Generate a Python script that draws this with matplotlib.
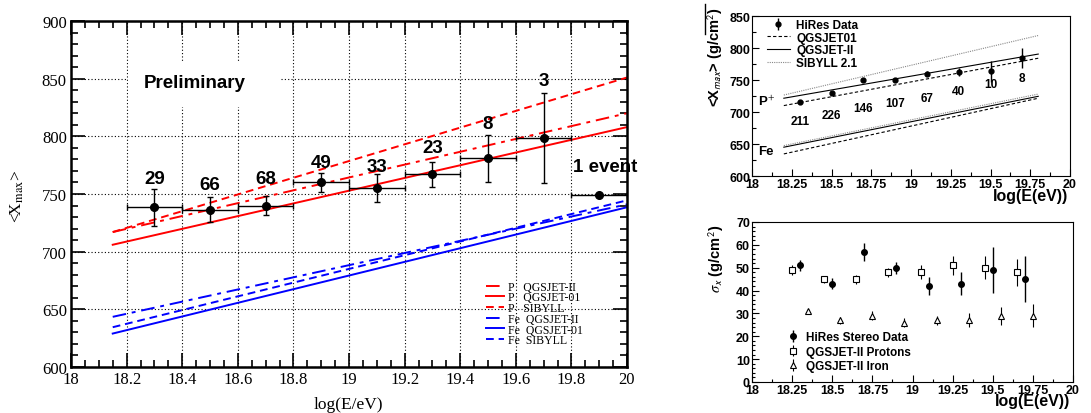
import matplotlib
matplotlib.use('Agg')
import matplotlib.pyplot as plt
from matplotlib.lines import Line2D
from matplotlib.patches import Rectangle
from matplotlib.ticker import MultipleLocator
import numpy as np

plt.rcParams['mathtext.fontset'] = 'stix'

SERIF = 'Liberation Serif'
SANS = 'Liberation Sans'

# ---- left panel: <Xmax> vs energy, preliminary data with model lines
xmax_e = [18.3, 18.5, 18.7, 18.9, 19.1, 19.3, 19.5, 19.7, 19.9]
xmax_val = [738.5, 736.5, 740, 760, 755, 767, 781, 798.5, 749]
xmax_err = [16, 11, 8, 8.5, 12, 11, 20.5, 39, 0]
xmax_bin = [0.1] * 9
xmax_counts = ['29', '66', '68', '49', '33', '23', '8', '3', '1 event']
count_e = [18.3, 18.5, 18.7, 18.9, 19.1, 19.3, 19.5, 19.7, 19.92]
count_y = [763, 758, 763, 777.5, 774, 790, 811, 848, 774]

model_e = [18.15, 20.0]
p_qgsjet2 = [717, 820]
p_qgsjet01 = [706, 808]
p_sibyll = [717, 851]
fe_qgsjet2 = [643.5, 741]
fe_qgsjet01 = [629, 738.5]
fe_sibyll = [634.5, 744.5]

# ---- top right: HiRes <Xmax>
hires_e = [18.3, 18.5, 18.7, 18.9, 19.1, 19.3, 19.5, 19.7]
hires_xmax = [716.5, 729.5, 750.5, 750.5, 760, 763.5, 765, 784.5]
hires_lo = [3, 3, 3, 3, 4, 6, 18, 15]
hires_hi = [3, 3, 3, 3, 4, 6, 15, 15.5]
hires_counts = ['211', '226', '146', '107', '67', '40', '10', '8']
hires_count_y = [687, 696, 706, 714.5, 723, 734, 744, 753.5]

hr_model_e = [18.2, 19.8]
hr_p_qgsjet01 = [710.5, 784.5]
hr_p_qgsjet2 = [722, 791]
hr_p_sibyll = [727, 820]
hr_fe_qgsjet01 = [635, 722]
hr_fe_qgsjet2 = [645.5, 725]
hr_fe_sibyll = [648, 728.5]

# ---- bottom right: width of Xmax distribution
sig_e = [18.3, 18.5, 18.7, 18.9, 19.1, 19.3, 19.5, 19.7]
sig_val = [51, 43, 57, 50, 42, 43, 49, 45]
sig_err = [2.5, 2.5, 4, 2.7, 4, 5, 10, 10]
prot_e = [18.25, 18.45, 18.65, 18.85, 19.05, 19.25, 19.45, 19.65]
prot_val = [49, 45, 45, 48, 48, 51, 50, 48]
prot_err = [2, 1.5, 2, 2, 3, 4, 5, 6]
iron_e = [18.35, 18.55, 18.75, 18.95, 19.15, 19.35, 19.55, 19.75]
iron_val = [31, 27, 29, 26, 27, 27, 29, 29]
iron_err = [1, 1.5, 2, 2, 2, 3, 4, 5]

e_ticks = ['18', '18.25', '18.5', '18.75', '19', '19.25', '19.5', '19.75', '20']

fig = plt.figure(figsize=(10.91, 4.14), dpi=100)

# ================= left panel =================
ax = fig.add_axes([0.0651, 0.1111, 0.5096, 0.8358])
ax.set_xlim(18, 20)
ax.set_ylim(600, 900)
ax.xaxis.set_minor_locator(MultipleLocator(0.05))
ax.yaxis.set_minor_locator(MultipleLocator(10))
ax.tick_params(which='both', direction='in', top=True, right=True, width=1.2)
ax.tick_params(which='major', length=10, pad=3)
ax.tick_params(which='minor', length=5)
ax.set_xticks(np.arange(18, 20.01, 0.2))
ax.set_xticklabels(['18', '18.2', '18.4', '18.6', '18.8', '19', '19.2', '19.4', '19.6', '19.8', '20'],
                   fontfamily=SERIF, fontsize=12)
ax.set_yticks(np.arange(600, 901, 50))
ax.set_yticklabels([str(v) for v in range(600, 901, 50)], fontfamily=SERIF, fontsize=12)
for s in ax.spines.values():
    s.set_linewidth(1.8)
ax.grid(True, which='major', color='black', linestyle=(0, (1, 2)), linewidth=0.8)
ax.set_axisbelow(True)

# white box behind the label
ax.add_patch(Rectangle((18.205, 825.4), 0.547, 39.1, facecolor='white', edgecolor='none', zorder=1.5))
ax.text(18.263, 847, 'Preliminary', fontfamily=SANS, fontweight='bold', fontsize=13.5,
        va='center', ha='left', zorder=3)

lw = 1.4
dashdot = (0, (7, 3, 2, 3))
dashed = (0, (4, 2.5))
ax.plot(model_e, p_qgsjet2, color='red', lw=lw, ls=dashdot, label='P   QGSJET-II', zorder=2)
ax.plot(model_e, p_qgsjet01, color='red', lw=lw, ls='-', label='P   QGSJET-01', zorder=2)
ax.plot(model_e, p_sibyll, color='red', lw=lw, ls=dashed, label='P   SIBYLL', zorder=2)
ax.plot(model_e, fe_qgsjet2, color='blue', lw=lw, ls=dashdot, label='Fe  QGSJET-II', zorder=2)
ax.plot(model_e, fe_qgsjet01, color='blue', lw=lw, ls='-', label='Fe  QGSJET-01', zorder=2)
ax.plot(model_e, fe_sibyll, color='blue', lw=lw, ls=dashed, label='Fe  SIBYLL', zorder=2)

ax.errorbar(xmax_e, xmax_val, yerr=xmax_err, xerr=xmax_bin, fmt='o', color='black',
            ms=5.5, elinewidth=1.0, capsize=2.5, capthick=1.0, zorder=4)

for e, y, t in zip(count_e, count_y, xmax_counts):
    ax.text(e, y, t, ha='center', va='center', fontfamily=SANS, fontweight='bold',
            fontsize=13.5, zorder=5, clip_on=False)

ax.legend(loc='lower left', bbox_to_anchor=(0.735, 0.043), frameon=False,
          prop={'family': SERIF, 'size': 8.5}, handlelength=1.6, handletextpad=0.3,
          labelspacing=-0.11, borderpad=0)

ax.set_xlabel('log(E/eV)', fontfamily=SERIF, fontsize=12.5)
ax.xaxis.set_label_coords(0.498, -0.085)
fig.text(17 / 1091, 1 - 196 / 414, r'<X$_{\rm max}$>', rotation=90, ha='center', va='center',
         fontfamily=SERIF, fontsize=12.5)

# ================= top right panel =================
ax2 = fig.add_axes([0.6893, 0.5717, 0.2915, 0.3865])
ax2.set_xlim(18, 20)
ax2.set_ylim(600, 850)
ax2.xaxis.set_minor_locator(MultipleLocator(0.125))
ax2.yaxis.set_minor_locator(MultipleLocator(25))
ax2.tick_params(which='both', direction='in', width=0.8)
ax2.tick_params(which='major', length=5, pad=1)
ax2.tick_params(which='minor', length=3)
ax2.set_xticks(np.arange(18, 20.01, 0.25))
ax2.set_xticklabels(e_ticks, fontfamily=SANS, fontweight='bold', fontsize=9)
ax2.set_yticks(np.arange(600, 851, 50))
ax2.set_yticklabels(['600', '650', '700', '750', '800', '850'],
                    fontfamily=SANS, fontweight='bold', fontsize=9)
for s in ax2.spines.values():
    s.set_linewidth(0.8)

ax2.plot(hr_model_e, hr_p_qgsjet01, color='black', lw=0.8, ls=(0, (3, 2)), label='QGSJET01')
ax2.plot(hr_model_e, hr_p_qgsjet2, color='black', lw=0.8, ls='-', label='QGSJET-II')
ax2.plot(hr_model_e, hr_p_sibyll, color='#888888', lw=0.8, ls=(0, (1, 1)), label='SIBYLL 2.1')
ax2.plot(hr_model_e, hr_fe_qgsjet01, color='black', lw=0.8, ls=(0, (3, 2)))
ax2.plot(hr_model_e, hr_fe_qgsjet2, color='black', lw=0.8, ls='-')
ax2.plot(hr_model_e, hr_fe_sibyll, color='#888888', lw=0.8, ls=(0, (1, 1)))
ax2.errorbar(hires_e, hires_xmax, yerr=[hires_lo, hires_hi], fmt='o', color='black',
             ms=3.5, elinewidth=1.0, capsize=0, label='HiRes Data')

for e, y, t in zip(hires_e, hires_count_y, hires_counts):
    ax2.text(e, y, t, ha='center', va='center', fontfamily=SANS, fontweight='bold', fontsize=8.5)
ax2.text(18.04, 718, r'P$^{\mathsf{+}}$', ha='left', va='center', fontfamily=SANS,
         fontweight='bold', fontsize=9.5)
ax2.text(18.04, 640, 'Fe', ha='left', va='center', fontfamily=SANS, fontweight='bold', fontsize=9.5)

handles, labels = ax2.get_legend_handles_labels()
order = [labels.index(n) for n in ['HiRes Data', 'QGSJET01', 'QGSJET-II', 'SIBYLL 2.1']]
ax2.legend([handles[i] for i in order], [labels[i] for i in order], loc='upper left',
           bbox_to_anchor=(0.02, 1.035), frameon=False,
           prop={'family': SANS, 'weight': 'bold', 'size': 8.5}, handlelength=2.0,
           handletextpad=0.5, labelspacing=0.05, borderpad=0.2)

fig.text(1068 / 1091, 1 - 197 / 414, 'log(E(eV))', ha='right', va='center',
         fontfamily=SANS, fontweight='bold', fontsize=11.5)
fig.text(715 / 1091, 1 - 7 / 414, r'<X$_{\mathsf{max}}$> (g/cm$^{\mathsf{2}}$)', rotation=90,
         ha='center', va='top', fontfamily=SANS, fontweight='bold', fontsize=10.5)

# ================= bottom right panel =================
ax3 = fig.add_axes([0.6893, 0.0749, 0.2942, 0.3865])
ax3.set_xlim(18, 20)
ax3.set_ylim(0, 70)
ax3.xaxis.set_minor_locator(MultipleLocator(0.125))
ax3.yaxis.set_minor_locator(MultipleLocator(2))
ax3.tick_params(which='both', direction='in', width=0.8)
ax3.tick_params(which='major', length=5, pad=1.5)
ax3.tick_params(which='minor', length=2.5)
ax3.set_xticks(np.arange(18, 20.01, 0.25))
ax3.set_xticklabels(e_ticks, fontfamily=SANS, fontweight='bold', fontsize=9)
ax3.set_yticks(np.arange(0, 71, 10))
ax3.set_yticklabels([str(v) for v in range(0, 71, 10)], fontfamily=SANS, fontweight='bold', fontsize=9)
for s in ax3.spines.values():
    s.set_linewidth(0.8)

ax3.errorbar(sig_e, sig_val, yerr=sig_err, fmt='o', color='black', ms=4, elinewidth=1.0,
             capsize=0, label='HiRes Stereo Data')
ax3.errorbar(prot_e, prot_val, yerr=prot_err, fmt='s', color='black', mfc='white', mew=0.8,
             ms=5, elinewidth=0.8, capsize=0, label='QGSJET-II Protons')
ax3.errorbar(iron_e, iron_val, yerr=iron_err, fmt='^', color='black', mfc='white', mew=0.8,
             ms=5, elinewidth=0.8, capsize=0, label='QGSJET-II Iron')
ax3.legend(loc='lower left', bbox_to_anchor=(0.09, 0.025), frameon=False,
           prop={'family': SANS, 'weight': 'bold', 'size': 8.5}, handlelength=1.0,
           handletextpad=0.6, labelspacing=0.2, borderpad=0)

fig.text(1070 / 1091, 1 - 402 / 414, 'log(E(eV))', ha='right', va='center',
         fontfamily=SANS, fontweight='bold', fontsize=11.5)
fig.text(716 / 1091, 1 - 225 / 414, r'$\sigma_{\mathsf{x}}$ (g/cm$^{\mathsf{2}}$)', rotation=90,
         ha='center', va='top', fontfamily=SANS, fontweight='bold', fontsize=10.5)

# short vertical stroke left of the upper right frame
fig.add_artist(Line2D([705 / 1091, 705 / 1091], [1 - 5 / 414, 1 - 35 / 414], color='black', lw=1.0))

fig.savefig('out.png', dpi=100)
